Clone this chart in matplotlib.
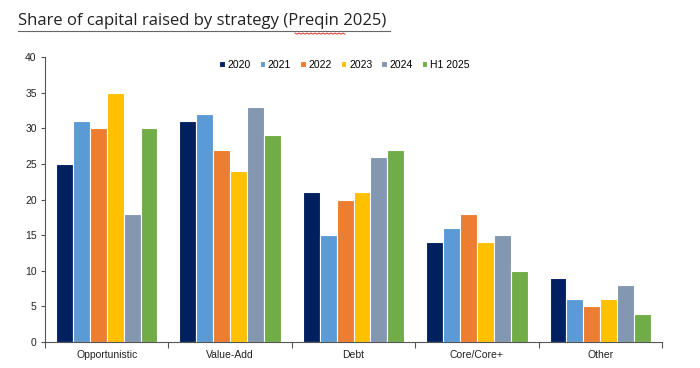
import numpy as np
import matplotlib.pyplot as plt
from matplotlib.ticker import FixedLocator, NullFormatter

# data
strategies = ['Opportunistic', 'Value-Add', 'Debt', 'Core/Core+', 'Other']
years = ['2020', '2021', '2022', '2023', '2024', 'H1 2025']
v2020 = [25, 31, 21, 14, 9]
v2021 = [31, 32, 15, 16, 6]
v2022 = [30, 27, 20, 18, 5]
v2023 = [35, 24, 21, 14, 6]
v2024 = [18, 33, 26, 15, 8]
vh125 = [30, 29, 27, 10, 4]
series = [v2020, v2021, v2022, v2023, v2024, vh125]
colors = ['#002060', '#5B9BD5', '#ED7D31', '#FFC000', '#8497B0', '#70AD47']

plt.rcParams['font.family'] = ['Liberation Sans', 'DejaVu Sans']

fig = plt.figure(figsize=(7.0, 3.68), dpi=100)
ax = fig.add_axes([45 / 700, 1 - 342 / 368, 617 / 700, 285 / 368])

x = np.arange(len(strategies))
w = 0.137
for i, (vals, c) in enumerate(zip(series, colors)):
    ax.bar(x + (i - 2.5) * w, vals, width=w, color=c, edgecolor='white',
           linewidth=0.8, label=years[i], zorder=2)

ax.set_xlim(-0.5, len(strategies) - 0.5)
ax.set_ylim(0, 40)
ax.set_yticks(range(0, 41, 5))
ax.set_xticks(x)
ax.set_xticklabels(strategies)
ax.xaxis.set_minor_locator(FixedLocator(np.arange(-0.5, len(strategies), 1)))
ax.xaxis.set_minor_formatter(NullFormatter())
ax.tick_params(axis='x', which='major', length=0, pad=6, labelsize=7.5, colors='#222222')
ax.tick_params(axis='x', which='minor', length=4, width=0.8, color='#555555')
ax.tick_params(axis='y', length=3, width=0.8, color='#555555', labelsize=7.5,
               labelcolor='#222222', pad=3)
for s in ['top', 'right']:
    ax.spines[s].set_visible(False)
for s in ['left', 'bottom']:
    ax.spines[s].set_color('#555555')
    ax.spines[s].set_linewidth(0.8)

ax.legend(loc='upper center', bbox_to_anchor=(0.485, 1.005), ncol=6, frameon=False,
          fontsize=7.5, handlelength=0.55, handleheight=0.55, handletextpad=0.25,
          columnspacing=0.85, borderaxespad=0.0)

# title with underline and spell-check squiggle
fig.text(18 / 700, 1 - 25 / 368, 'Share of capital raised by strategy (Preqin 2025)',
         fontsize=12, family=['Open Sans', 'DejaVu Sans'], color='#222222',
         ha='left', va='baseline')
fig.add_artist(plt.Line2D([18 / 700, 390 / 700], [1 - 31 / 368, 1 - 31 / 368],
                          color='#666666', linewidth=0.8))
zx = np.arange(295, 346, 2)
zy = 33 + (np.arange(len(zx)) % 2) * 1.2
fig.add_artist(plt.Line2D(zx / 700, 1 - zy / 368, color='#E03030', linewidth=0.7))

fig.savefig('out.png', dpi=100)
